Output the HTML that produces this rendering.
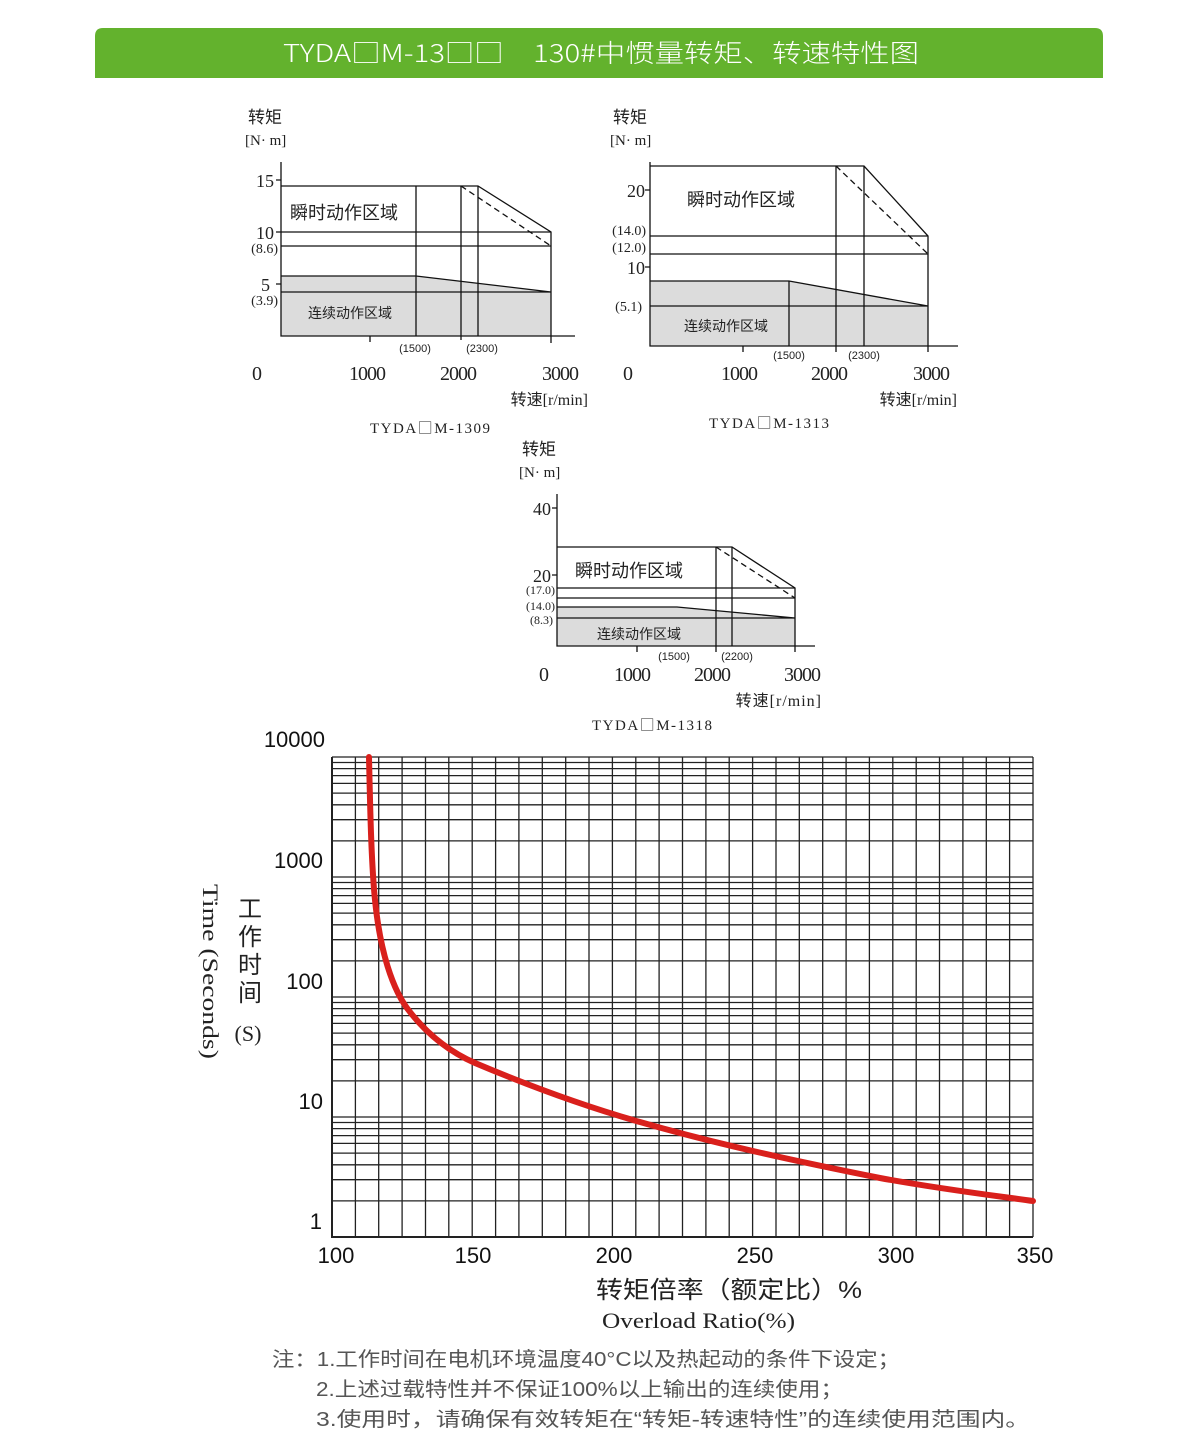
<!DOCTYPE html>
<html><head><meta charset="utf-8"><style>
html,body{margin:0;padding:0;background:#fff;}
svg{display:block;}
.s{font-family:"Liberation Serif","Noto Serif CJK SC",serif;}
.c{font-family:"Liberation Sans","Noto Sans CJK SC",sans-serif;}
.k{font-family:"Noto Sans CJK SC",sans-serif;}
</style></head><body>
<svg width="1200" height="1455" viewBox="0 0 1200 1455" xmlns="http://www.w3.org/2000/svg">
<path d="M95,36 Q95,28 103,28 H1095 Q1103,28 1103,36 V78 H95 Z" fill="#63b22d"/>
<text x="283" y="62" class="k" font-size="25" font-weight="300" fill="#fff" textLength="636" lengthAdjust="spacingAndGlyphs">TYDA□M-13□□　130#中惯量转矩、转速特性图</text>

<!-- Chart 1 -->
<g stroke="#111" stroke-width="1.3" fill="none">
<path d="M281,276 H416 L551,292 V336 H281 Z" fill="#dcdcdc" stroke="none"/>
<path d="M281,162 V336 H575"/>
<path d="M281,186 H478 L551,232 V336"/>
<path d="M281,232 H551 M281,246 H551 M281,292 H551 M281,276 H416 L551,292"/>
<path d="M416,186 V336 M461,186 V340 M478,186 V336 M551,336 V343 M370,336 V342"/>
<path d="M461,186 L551,246" stroke-dasharray="6,4"/>
<path d="M276,180 H281 M276,232 H281 M276,284 H281"/>
</g>
<g class="s" fill="#222">
<text x="248" y="123" class="c" font-size="17">转矩</text>
<text x="245" y="145" font-size="15">[N· m]</text>
<text x="274" y="187" font-size="18" text-anchor="end">15</text>
<text x="274" y="239" font-size="18" text-anchor="end">10</text>
<text x="278" y="253" font-size="14" text-anchor="end">(8.6)</text>
<text x="270" y="291" font-size="18" text-anchor="end">5</text>
<text x="278" y="305" font-size="14" text-anchor="end">(3.9)</text>
<text x="290" y="219" class="c" font-size="18">瞬时动作区域</text>
<text x="308" y="318" class="c" font-size="14">连续动作区域</text>
<text x="415" y="352" class="c" font-size="11" text-anchor="middle">(1500)</text>
<text x="482" y="352" class="c" font-size="11" text-anchor="middle">(2300)</text>
<text x="257" y="380" font-size="20" text-anchor="middle">0</text>
<text x="367" y="380" font-size="20" text-anchor="middle" letter-spacing="-1">1000</text>
<text x="458" y="380" font-size="20" text-anchor="middle" letter-spacing="-1">2000</text>
<text x="560" y="380" font-size="20" text-anchor="middle" letter-spacing="-1">3000</text>
<text x="588" y="405" font-size="16" text-anchor="end"><tspan class="c">转速</tspan>[r/min]</text>
<text x="370" y="433" font-size="15" letter-spacing="1.5">TYDA<tspan class="k" font-weight="300">□</tspan>M-1309</text>
</g>

<!-- Chart 2 -->
<g stroke="#111" stroke-width="1.3" fill="none">
<path d="M650,281 H789 L928,306 V346 H650 Z" fill="#dcdcdc" stroke="none"/>
<path d="M650,162 V346 H958"/>
<path d="M650,166 H864 L928,236 V346"/>
<path d="M650,236 H928 M650,254 H928 M650,306 H928 M650,281 H789 L928,306"/>
<path d="M789,281 V346 M836,166 V352 M864,166 V346 M928,346 V352 M743,346 V352"/>
<path d="M836,166 L928,254" stroke-dasharray="6,4"/>
<path d="M645,190 H650 M645,267 H650"/>
</g>
<g class="s" fill="#222">
<text x="613" y="123" class="c" font-size="17">转矩</text>
<text x="610" y="145" font-size="15">[N· m]</text>
<text x="645" y="197" font-size="18" text-anchor="end">20</text>
<text x="646" y="235" font-size="14" text-anchor="end">(14.0)</text>
<text x="646" y="252" font-size="14" text-anchor="end">(12.0)</text>
<text x="645" y="274" font-size="18" text-anchor="end">10</text>
<text x="642" y="311" font-size="14" text-anchor="end">(5.1)</text>
<text x="687" y="206" class="c" font-size="18">瞬时动作区域</text>
<text x="684" y="331" class="c" font-size="14">连续动作区域</text>
<text x="789" y="359" class="c" font-size="11" text-anchor="middle">(1500)</text>
<text x="864" y="359" class="c" font-size="11" text-anchor="middle">(2300)</text>
<text x="628" y="380" font-size="20" text-anchor="middle">0</text>
<text x="739" y="380" font-size="20" text-anchor="middle" letter-spacing="-1">1000</text>
<text x="829" y="380" font-size="20" text-anchor="middle" letter-spacing="-1">2000</text>
<text x="931" y="380" font-size="20" text-anchor="middle" letter-spacing="-1">3000</text>
<text x="957" y="405" font-size="16" text-anchor="end"><tspan class="c">转速</tspan>[r/min]</text>
<text x="709" y="428" font-size="15" letter-spacing="1.5">TYDA<tspan class="k" font-weight="300">□</tspan>M-1313</text>
</g>

<!-- Chart 3 -->
<g stroke="#111" stroke-width="1.3" fill="none">
<path d="M557,607 H677 L795,618 V646 H557 Z" fill="#dcdcdc" stroke="none"/>
<path d="M557,494 V646 H815"/>
<path d="M557,547 H732 L795,588 V646"/>
<path d="M557,588 H795 M557,598 H795 M557,618 H795 M557,607 H677 L795,618"/>
<path d="M716,547 V652 M732,547 V646 M795,646 V652 M637,646 V652"/>
<path d="M716,547 L795,598" stroke-dasharray="6,4"/>
<path d="M552,508 H557 M552,575 H557"/>
</g>
<g class="s" fill="#222">
<text x="522" y="455" class="c" font-size="17">转矩</text>
<text x="519" y="477" font-size="15">[N· m]</text>
<text x="551" y="515" font-size="18" text-anchor="end">40</text>
<text x="551" y="582" font-size="18" text-anchor="end">20</text>
<text x="555" y="594" font-size="12" text-anchor="end">(17.0)</text>
<text x="555" y="610" font-size="12" text-anchor="end">(14.0)</text>
<text x="553" y="624" font-size="12" text-anchor="end">(8.3)</text>
<text x="575" y="577" class="c" font-size="18">瞬时动作区域</text>
<text x="597" y="639" class="c" font-size="14">连续动作区域</text>
<text x="674" y="660" class="c" font-size="11" text-anchor="middle">(1500)</text>
<text x="737" y="660" class="c" font-size="11" text-anchor="middle">(2200)</text>
<text x="544" y="681" font-size="20" text-anchor="middle">0</text>
<text x="632" y="681" font-size="20" text-anchor="middle" letter-spacing="-1">1000</text>
<text x="712" y="681" font-size="20" text-anchor="middle" letter-spacing="-1">2000</text>
<text x="802" y="681" font-size="20" text-anchor="middle" letter-spacing="-1">3000</text>
<text x="822" y="706" font-size="16" text-anchor="end" letter-spacing="1"><tspan class="c">转速</tspan>[r/min]</text>
<text x="592" y="730" font-size="15" letter-spacing="1.5">TYDA<tspan class="k" font-weight="300">□</tspan>M-1318</text>
</g>

<!-- Overload chart grid -->
<g stroke="#222" stroke-width="1.3" fill="none">
<path d="M332,757V1237 M355.4,757V1237 M378.7,757V1237 M402.1,757V1237 M425.5,757V1237 M448.8,757V1237 M472.2,757V1237 M495.6,757V1237 M518.9,757V1237 M542.3,757V1237 M565.7,757V1237 M589,757V1237 M612.4,757V1237 M635.8,757V1237 M659.1,757V1237 M682.5,757V1237 M705.9,757V1237 M729.2,757V1237 M752.6,757V1237 M776,757V1237 M799.3,757V1237 M822.7,757V1237 M846.1,757V1237 M869.4,757V1237 M892.8,757V1237 M916.2,757V1237 M939.5,757V1237 M962.9,757V1237 M986.3,757V1237 M1009.6,757V1237 M1033,757V1237"/>
<path d="M332,757H1033 M332,762.5H1033 M332,768.6H1033 M332,775.6H1033 M332,783.4H1033 M332,793.1H1033 M332,804.8H1033 M332,819.7H1033 M332,840.9H1033
M332,877H1033 M332,882.5H1033 M332,888.6H1033 M332,895.6H1033 M332,903.4H1033 M332,913.1H1033 M332,924.8H1033 M332,939.7H1033 M332,960.9H1033
M332,997H1033 M332,1002.5H1033 M332,1008.6H1033 M332,1015.6H1033 M332,1023.4H1033 M332,1033.1H1033 M332,1044.8H1033 M332,1059.7H1033 M332,1080.9H1033
M332,1117H1033 M332,1122.5H1033 M332,1128.6H1033 M332,1135.6H1033 M332,1143.4H1033 M332,1153.1H1033 M332,1164.8H1033 M332,1179.7H1033 M332,1200.9H1033"/>
<path d="M332,757V1237H1033" stroke-width="2"/>
</g>
<path d="M369,757 C370,800 371,860 375,900 C380,950 392,990 410,1012 C428,1035 450,1052 475,1063 C520,1082 580,1105 640,1122 C720,1145 800,1162 880,1178 C940,1189 990,1195 1033,1201" stroke="#d9201c" stroke-width="6" fill="none" stroke-linecap="round"/>

<g class="c" fill="#111" font-size="22">
<text x="325" y="747" text-anchor="end">10000</text>
<text x="323" y="868" text-anchor="end">1000</text>
<text x="323" y="989" text-anchor="end">100</text>
<text x="323" y="1109" text-anchor="end">10</text>
<text x="322" y="1229" text-anchor="end">1</text>
<text x="336" y="1263" text-anchor="middle">100</text>
<text x="473" y="1263" text-anchor="middle">150</text>
<text x="614" y="1263" text-anchor="middle">200</text>
<text x="755" y="1263" text-anchor="middle">250</text>
<text x="896" y="1263" text-anchor="middle">300</text>
<text x="1035" y="1263" text-anchor="middle">350</text>
</g>
<text x="596" y="1298" class="c" font-size="24" fill="#222" textLength="266" lengthAdjust="spacingAndGlyphs">转矩倍率（额定比）%</text>
<text x="602" y="1328" class="s" font-size="22" fill="#222" textLength="193" lengthAdjust="spacingAndGlyphs">Overload Ratio(%)</text>
<text transform="translate(203,884) rotate(90)" class="s" font-size="22" fill="#222" textLength="175" lengthAdjust="spacingAndGlyphs">Time (Seconds)</text>
<g class="c" font-size="24" fill="#222" text-anchor="middle">
<text x="250" y="917">工</text>
<text x="250" y="945">作</text>
<text x="250" y="973">时</text>
<text x="250" y="1001">间</text>
<text x="248" y="1041" class="s" font-size="22">(S)</text>
</g>

<g class="c" fill="#555" font-size="20">
<text x="272" y="1366" textLength="628" lengthAdjust="spacingAndGlyphs">注：1.工作时间在电机环境温度40°C以及热起动的条件下设定；</text>
<text x="316" y="1396" textLength="527" lengthAdjust="spacingAndGlyphs">2.上述过载特性并不保证100%以上输出的连续使用；</text>
<text x="316" y="1426" textLength="714" lengthAdjust="spacingAndGlyphs">3.使用时，请确保有效转矩在“转矩-转速特性”的连续使用范围内。</text>
</g>
</svg>
</body></html>
